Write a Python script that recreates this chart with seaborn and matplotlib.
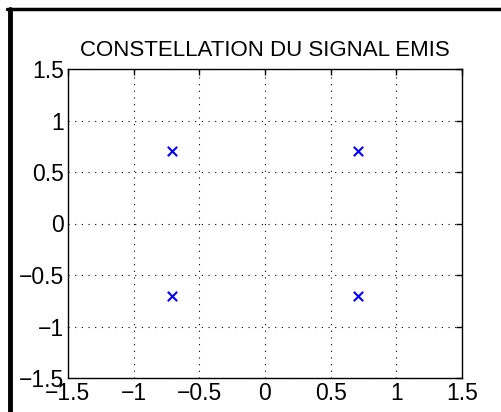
import matplotlib
matplotlib.use("Agg")
import matplotlib.pyplot as plt
import seaborn as sns
import pandas as pd
import numpy as np
from matplotlib.lines import Line2D

# Data
i_vals = [0.7071, -0.7071, -0.7071, 0.7071]
q_vals = [0.7071, 0.7071, -0.7071, -0.7071]
ticks = [-1.5, -1, -0.5, 0, 0.5, 1, 1.5]
tick_labels = ["\u22121.5", "\u22121", "\u22120.5", "0", "0.5", "1", "1.5"]
title = "CONSTELLATION DU SIGNAL EMIS"

sns.set_style("white")
plt.rcParams['font.family'] = ['Liberation Sans', 'DejaVu Sans']
plt.rcParams['text.color'] = 'black'
plt.rcParams['axes.titlecolor'] = 'black'

df = pd.DataFrame({"I": i_vals, "Q": q_vals})

fig = plt.figure(figsize=(5.02, 4.12), dpi=100)
ax = fig.add_axes([68/502, 1-378/412, (462-68)/502, (378-69)/412])

sns.scatterplot(data=df, x="I", y="Q", ax=ax, marker="x", color="#0000ff",
                s=45, linewidth=1.5, legend=False, zorder=3)

ax.set_xlim(-1.5, 1.5)
ax.set_ylim(-1.5, 1.5)
ax.set_xticks(ticks)
ax.set_yticks(ticks)
ax.set_xticklabels(tick_labels)
ax.set_yticklabels(tick_labels)
ax.set_xlabel("")
ax.set_ylabel("")
ax.tick_params(direction="in", length=4, width=1, labelsize=16.5, colors="black",
               labelcolor="black", top=True, right=True, pad=3)
ax.tick_params(axis="x", pad=3)
ax.grid(True, color="black", linestyle=(0, (1, 5)), linewidth=0.8)
for sp in ax.spines.values():
    sp.set_color("black")
    sp.set_linewidth(1.0)
    sp.set_visible(True)
ax.set_title(title, fontsize=16, pad=9, color="black")

# figure frame (thick black border on top and left)
fig.add_artist(Line2D([9.5/502, 9.5/502], [0, 1-8.5/412], transform=fig.transFigure,
                      color="black", linewidth=3.5))
fig.add_artist(Line2D([7.5/502, 1], [1-8.5/412, 1-8.5/412], transform=fig.transFigure,
                      color="black", linewidth=2.5))

fig.savefig("out.png", dpi=100)
